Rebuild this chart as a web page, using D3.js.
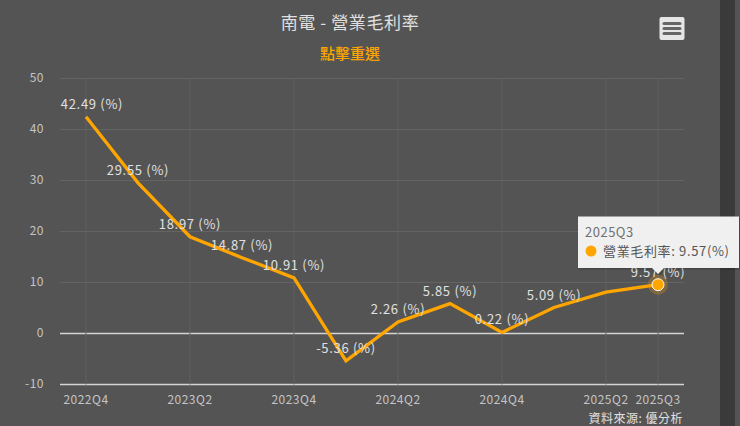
<!DOCTYPE html>
<html>
<head>
<meta charset="utf-8">
<script src="https://cdn.jsdelivr.net/npm/d3@7"></script>
<style>
  html, body { margin: 0; padding: 0; background: #545454; overflow: hidden; }
  text { font-family: "Noto Sans CJK TC", "Noto Sans", sans-serif; }
</style>
</head>
<body>
<script>
// values
const quarters = ["2022Q4", "2023Q1", "2023Q2", "2023Q3", "2023Q4", "2024Q1", "2024Q2", "2024Q3", "2024Q4", "2025Q1", "2025Q2", "2025Q3"];
const margins = [42.49, 29.55, 18.97, 14.87, 10.91, -5.36, 2.26, 5.85, 0.22, 5.09, 8.1, 9.57];
const xTickLabels = ["2022Q4", "2023Q2", "2023Q4", "2024Q2", "2024Q4", "2025Q2", "2025Q3"];
const yTickValues = [-10, 0, 10, 20, 30, 40, 50];
const unlabelled = ["2025Q2"]; // no data label there in the original

const width = 740, height = 426;
const orange = "#ffa500";

const svg = d3.select("body").append("svg")
  .attr("width", width)
  .attr("height", height)
  .style("display", "block");

// dark strip on the right
svg.append("rect").attr("x", 720).attr("y", 0).attr("width", 15).attr("height", height).attr("fill", "#3a3a3a");

const x = d3.scalePoint().domain(quarters).range([86, 658]);
const y = d3.scaleLinear().domain([-10, 50]).range([384.5, 78.5]);

// horizontal grid
svg.selectAll("line.hgrid")
  .data(yTickValues)
  .enter()
  .append("line")
  .attr("class", "hgrid")
  .attr("x1", 60).attr("x2", 684)
  .attr("y1", d => y(d)).attr("y2", d => y(d))
  .attr("stroke", d => (d === 0 || d === -10) ? "#d4d4d4" : "#646464")
  .attr("stroke-width", d => (d === 0 || d === -10) ? 1.5 : 1);

// vertical grid
svg.selectAll("line.vgrid")
  .data(xTickLabels)
  .enter()
  .append("line")
  .attr("class", "vgrid")
  .attr("x1", d => x(d)).attr("x2", d => x(d))
  .attr("y1", y(50)).attr("y2", y(-10))
  .attr("stroke", "#606060");

// y labels
svg.selectAll("text.ylab")
  .data(yTickValues)
  .enter()
  .append("text")
  .attr("class", "ylab")
  .attr("x", 44)
  .attr("y", d => y(d) + 3.5)
  .attr("text-anchor", "end")
  .attr("font-size", 12)
  .attr("letter-spacing", 0.5)
  .attr("fill", "#c4c4c4")
  .text(d => d);

// x labels
svg.selectAll("text.xlab")
  .data(xTickLabels)
  .enter()
  .append("text")
  .attr("class", "xlab")
  .attr("x", d => x(d))
  .attr("y", 404)
  .attr("text-anchor", "middle")
  .attr("font-size", 12)
  .attr("letter-spacing", 0.5)
  .attr("fill", "#c4c4c4")
  .text(d => d);

// the line
const line = d3.line()
  .x((d, i) => x(quarters[i]))
  .y(d => y(d));

svg.append("path")
  .attr("d", line(margins))
  .attr("fill", "none")
  .attr("stroke", orange)
  .attr("stroke-width", 3.3)
  .attr("stroke-linejoin", "miter");

// data labels, kept inside the plot on the left
const labelled = quarters.filter(q => !unlabelled.includes(q));
svg.selectAll("text.dlab")
  .data(labelled)
  .enter()
  .append("text")
  .attr("class", "dlab")
  .attr("x", d => Math.max(x(d), 92))
  .attr("y", d => y(margins[quarters.indexOf(d)]) - 8)
  .attr("text-anchor", "middle")
  .attr("font-size", 13)
  .attr("letter-spacing", 0.7)
  .attr("fill", "#e0e0e0")
  .text(d => margins[quarters.indexOf(d)].toFixed(2) + " (%)");

// title
svg.append("text").attr("x", 350).attr("y", 29).attr("text-anchor", "middle")
  .attr("font-size", 17).attr("letter-spacing", 0.6).attr("fill", "#e0e0e0").text("南電 - 營業毛利率");
svg.append("text").attr("x", 350).attr("y", 59).attr("text-anchor", "middle")
  .attr("font-size", 15).attr("font-weight", 500).attr("fill", orange).text("點擊重選");

// source
svg.append("text").attr("x", 683).attr("y", 423).attr("text-anchor", "end")
  .attr("font-size", 12).attr("letter-spacing", 0.5).attr("fill", "#e0e0e0").text("資料來源: 優分析");

// menu button
svg.append("rect").attr("x", 659.5).attr("y", 17).attr("width", 25).attr("height", 23).attr("rx", 2).attr("fill", "#e6e6e6");
[23.5, 28.5, 33.5].forEach(function(yy) {
  svg.append("line").attr("x1", 664).attr("x2", 680).attr("y1", yy).attr("y2", yy)
    .attr("stroke", "#666666").attr("stroke-width", 3).attr("stroke-linecap", "round");
});

// hovered point
const last = quarters.length - 1;
svg.append("circle").attr("cx", x(quarters[last])).attr("cy", y(margins[last])).attr("r", 10)
  .attr("fill", orange).attr("opacity", 0.25);
svg.append("circle").attr("cx", x(quarters[last])).attr("cy", y(margins[last])).attr("r", 6)
  .attr("fill", orange).attr("stroke", "#ffffff").attr("stroke-width", 1);

// tooltip
const tip = svg.append("g");
tip.append("path")
  .attr("d", "M578 216.5 H739 V268 H" + (x(quarters[last]) + 6) + " L" + x(quarters[last]) + " 274 L" + (x(quarters[last]) - 6) + " 268 H578 Z")
  .attr("fill", "#f0f0f0")
  .style("filter", "drop-shadow(1px 1px 1px rgba(0,0,0,0.25))");
tip.append("text").attr("x", 585).attr("y", 237).attr("font-size", 13).attr("letter-spacing", 0.5).attr("fill", "#707070").text(quarters[last]);
tip.append("circle").attr("cx", 591).attr("cy", 251).attr("r", 5.5).attr("fill", orange);
tip.append("text").attr("x", 603).attr("y", 256).attr("font-size", 13).attr("letter-spacing", 0.65).attr("fill", "#555555")
  .text("營業毛利率: " + margins[last].toFixed(2) + "(%)");
</script>
</body>
</html>
